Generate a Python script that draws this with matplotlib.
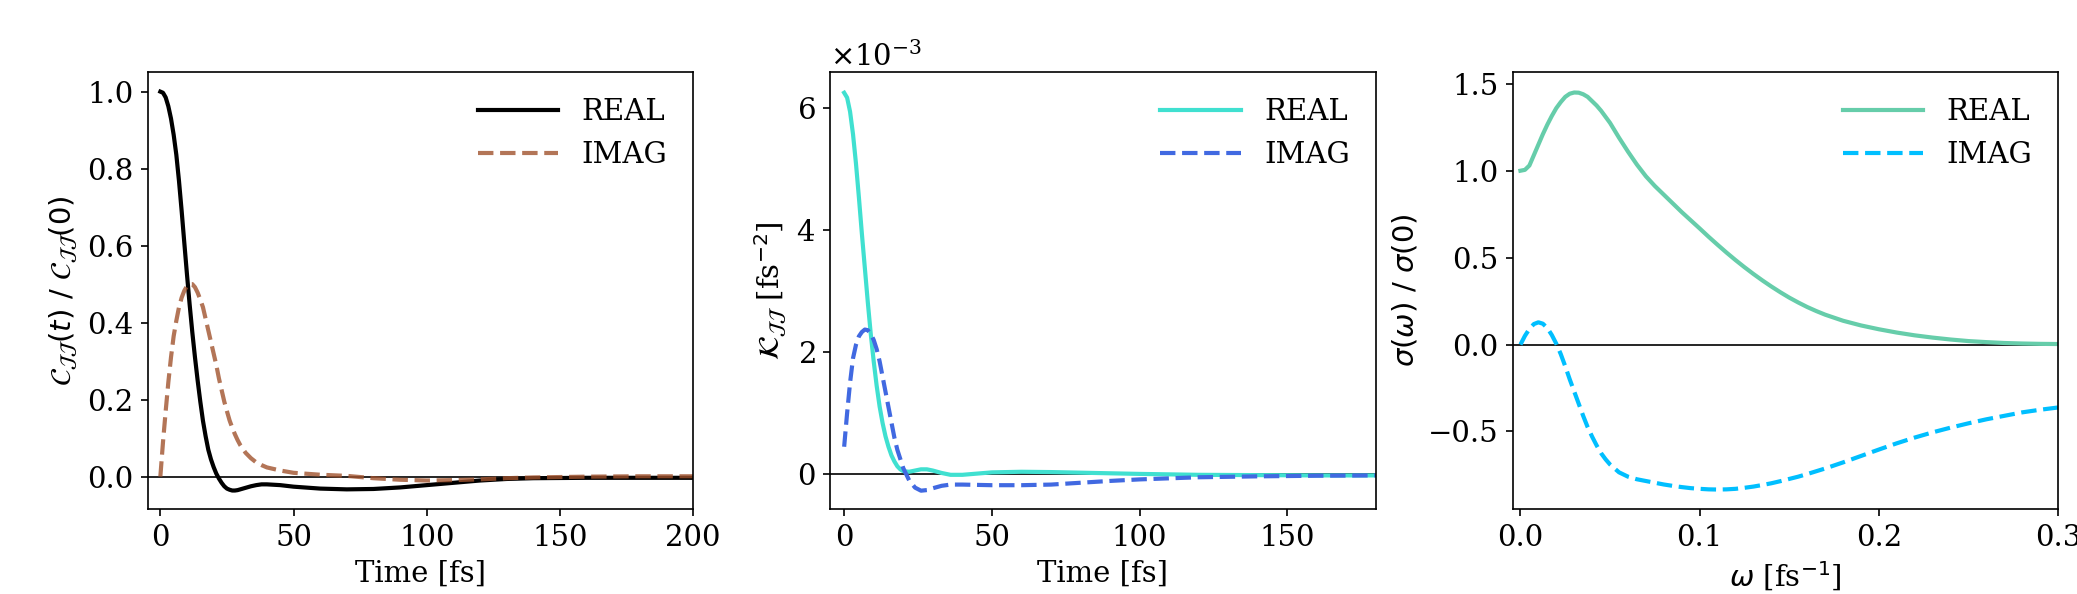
import numpy as np
import matplotlib
matplotlib.use('Agg')
import matplotlib.pyplot as plt
from matplotlib.ticker import ScalarFormatter

plt.rcParams['font.family'] = 'serif'
plt.rcParams['font.serif'] = ['DejaVu Serif']
plt.rcParams['mathtext.fontset'] = 'dejavusans'
plt.rcParams['font.size'] = 14

# current-current correlation function C_JJ(t)/C_JJ(0)
t_c = [0, 1, 2, 3, 4, 5, 6, 7, 8, 9, 10, 11, 12, 13, 14, 15, 16, 17, 18, 19, 20,
       21, 22, 23, 24, 25, 26, 27, 28, 29, 30, 32, 34, 36, 38, 40, 45,
       50, 60, 70, 80, 90, 100, 110, 120, 130, 140, 160, 180, 200]
c_real = [1.0, 0.997, 0.985, 0.962, 0.93, 0.888, 0.836, 0.768, 0.69, 0.607, 0.525,
          0.447, 0.375, 0.31, 0.25, 0.195, 0.145, 0.105, 0.07, 0.045, 0.025,
          0.008, -0.005, -0.016, -0.025, -0.031, -0.034, -0.036, -0.036, -0.035,
          -0.033, -0.029, -0.025, -0.022, -0.02, -0.02, -0.022,
          -0.026, -0.031, -0.033, -0.032, -0.028, -0.022, -0.016, -0.01, -0.006,
          -0.004, -0.003, -0.003, -0.003]
c_imag = [0.0, 0.09, 0.17, 0.245, 0.31, 0.365, 0.405, 0.44, 0.465, 0.483, 0.495,
          0.5, 0.5, 0.492, 0.478, 0.46, 0.44, 0.41, 0.38, 0.35, 0.32,
          0.29, 0.255, 0.225, 0.195, 0.17, 0.146, 0.127, 0.11, 0.095,
          0.082, 0.062, 0.048, 0.037, 0.03, 0.024, 0.016,
          0.01, 0.005, 0.002, -0.004, -0.008, -0.01, -0.009, -0.007, -0.004,
          -0.002, 0.0, 0.001, 0.001]

# memory kernel K_JJ(t) in units of 1e-3 fs^-2
t_k = [0, 1, 2, 3, 4, 5, 6, 7, 8, 9, 10, 11, 12, 13, 14, 15, 16, 17, 18, 19, 20,
       22, 24, 26, 28, 30, 33, 36, 40, 45, 50, 60, 70, 80, 90, 100, 120, 140, 160, 180]
k_real = [6.25, 6.17, 5.94, 5.57, 5.09, 4.53, 3.94, 3.38, 2.82, 2.30, 1.85, 1.45, 1.11,
          0.84, 0.62, 0.45, 0.31, 0.21, 0.13, 0.08, 0.05,
          0.04, 0.06, 0.08, 0.08, 0.06, 0.02, -0.01, -0.01, 0.01, 0.03, 0.04, 0.035,
          0.025, 0.015, 0.005, -0.01, -0.015, -0.02, -0.02]
k_imag = [0.45, 1.0, 1.5, 1.9, 2.12, 2.26, 2.33, 2.37, 2.36, 2.30, 2.20, 2.05, 1.85,
          1.60, 1.35, 1.10, 0.85, 0.60, 0.40, 0.25, 0.10,
          -0.10, -0.22, -0.27, -0.26, -0.23, -0.19, -0.17, -0.17, -0.175, -0.18, -0.18,
          -0.17, -0.14, -0.11, -0.085, -0.05, -0.035, -0.025, -0.02]

# conductivity sigma(w)/sigma(0)
w = [0, 0.0025, 0.005, 0.0075, 0.01, 0.0125, 0.015, 0.0175, 0.02, 0.0225, 0.025,
     0.0275, 0.03, 0.0325, 0.035, 0.0375, 0.04, 0.0425, 0.045, 0.0475, 0.05,
     0.055, 0.06, 0.065, 0.07, 0.075, 0.08, 0.085, 0.09, 0.095, 0.10, 0.105, 0.11,
     0.115, 0.12, 0.125, 0.13, 0.135, 0.14, 0.145, 0.15, 0.155, 0.16, 0.165, 0.17,
     0.18, 0.19, 0.20, 0.21, 0.22, 0.23, 0.24, 0.25, 0.26, 0.27, 0.28, 0.29, 0.30]
s_real = [1.0, 1.005, 1.03, 1.09, 1.15, 1.21, 1.265, 1.315, 1.36, 1.395, 1.425,
          1.443, 1.45, 1.449, 1.44, 1.425, 1.40, 1.375, 1.345, 1.31, 1.275,
          1.19, 1.11, 1.035, 0.968, 0.912, 0.862, 0.812, 0.762, 0.715, 0.668, 0.62,
          0.574, 0.529, 0.486, 0.445, 0.406, 0.369, 0.334, 0.301, 0.27, 0.242, 0.216,
          0.193, 0.172, 0.137, 0.11, 0.088, 0.069, 0.053, 0.04, 0.029, 0.02, 0.014,
          0.009, 0.006, 0.004, 0.003]
s_imag = [0.0, 0.05, 0.09, 0.118, 0.128, 0.12, 0.095, 0.055, 0.005, -0.055, -0.125,
          -0.2, -0.27, -0.34, -0.41, -0.475, -0.53, -0.58, -0.625, -0.66, -0.69,
          -0.735, -0.76, -0.775, -0.785, -0.795, -0.805, -0.813, -0.82, -0.826, -0.83,
          -0.833, -0.834, -0.833, -0.83, -0.824, -0.817, -0.808, -0.798, -0.786, -0.773,
          -0.76, -0.745, -0.729, -0.713, -0.678, -0.641, -0.604, -0.568, -0.535,
          -0.505, -0.478, -0.453, -0.43, -0.41, -0.39, -0.375, -0.362]

fig = plt.figure(figsize=(2077 / 150, 594 / 150), dpi=150)
ax1 = fig.add_axes([0.0713, 0.1431, 0.2624, 0.7357])
ax2 = fig.add_axes([0.3996, 0.1431, 0.2629, 0.7357])
ax3 = fig.add_axes([0.7285, 0.1431, 0.2624, 0.7357])

ax1.axhline(0, color='k', lw=0.8)
ax1.plot(t_c, c_real, color='k', lw=2, label='REAL')
ax1.plot(t_c, c_imag, '--', color='sienna', alpha=0.8, lw=2, label='IMAG')
ax1.set_xlim(-4.6, 200)
ax1.set_ylim(-0.084, 1.051)
ax1.set_xticks([0, 50, 100, 150, 200])
ax1.set_yticks([0.0, 0.2, 0.4, 0.6, 0.8, 1.0])
ax1.set_xlabel('Time [fs]')
ax1.set_ylabel(r'$\mathcal{C}_{\mathcal{JJ}}(t)\ /\ \mathcal{C}_{\mathcal{JJ}}(0)$')
ax1.legend(loc='upper right', frameon=False, handlelength=2.75)

ax2.axhline(0, color='k', lw=0.8)
ax2.plot(t_k, np.array(k_real) * 1e-3, color='turquoise', lw=2, label='REAL')
ax2.plot(t_k, np.array(k_imag) * 1e-3, '--', color='royalblue', lw=2, label='IMAG')
ax2.set_xlim(-4.8, 180)
ax2.set_ylim(-0.57e-3, 6.59e-3)
ax2.set_xticks([0, 50, 100, 150])
ax2.set_yticks([0, 2e-3, 4e-3, 6e-3])
fmt = ScalarFormatter(useMathText=True)
fmt.set_powerlimits((0, 0))
ax2.yaxis.set_major_formatter(fmt)
ax2.set_xlabel('Time [fs]')
ax2.set_ylabel(r'$\mathcal{K}_{\mathcal{JJ}}$ [fs$^{-2}$]')
ax2.legend(loc='upper right', frameon=False, handlelength=2.75)

ax3.axhline(0, color='k', lw=0.8)
ax3.plot(w, s_real, color='mediumaquamarine', lw=2, label='REAL')
ax3.plot(w, s_imag, '--', color='deepskyblue', lw=2, label='IMAG')
ax3.set_xlim(-0.0041, 0.3)
ax3.set_ylim(-0.946, 1.568)
ax3.set_xticks([0.0, 0.1, 0.2, 0.3])
ax3.set_yticks([-0.5, 0.0, 0.5, 1.0, 1.5])
ax3.set_xlabel(r'$\omega$ [fs$^{-1}$]')
ax3.set_ylabel(r'$\sigma(\omega)\ /\ \sigma(0)$')
ax3.legend(loc='upper right', frameon=False, handlelength=2.75)

fig.savefig('out.png', dpi=150)
